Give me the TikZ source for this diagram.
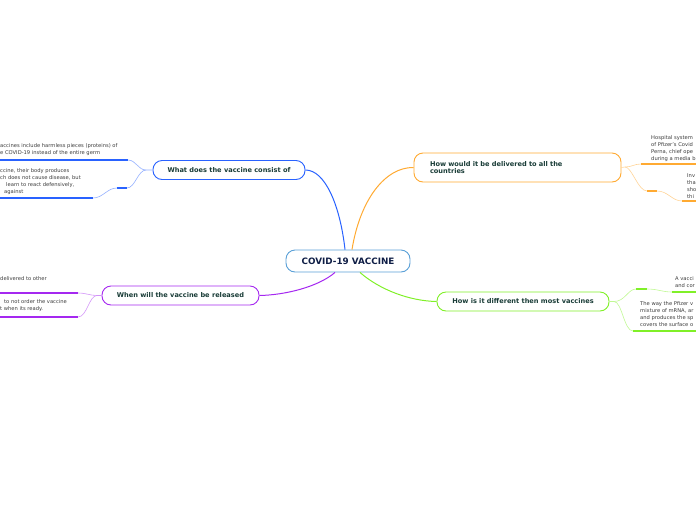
\documentclass[tikz,border=0pt]{standalone}
\usepackage{fontspec}
\setmainfont{DejaVu Sans}
\usetikzlibrary{positioning}
\definecolor{rootline}{RGB}{90,160,215}
\definecolor{roottext}{RGB}{15,30,70}
\definecolor{topictext}{RGB}{25,60,55}
\definecolor{leaftext}{RGB}{60,60,60}
\definecolor{cblue}{RGB}{41,98,255}
\definecolor{corange}{RGB}{255,170,50}
\definecolor{cpurple}{RGB}{165,40,240}
\definecolor{cgreen}{RGB}{128,240,40}

\begin{document}
\begin{tikzpicture}[x=1pt, y=-1pt,
    topic/.style={draw, fill=white, rounded corners=9pt, line width=0.9pt, text=topictext,
      font=\fontsize{6.6}{8}\selectfont\bfseries, minimum height=19pt, inner xsep=0pt},
    leaf/.style={anchor=north west, inner sep=0pt, align=left, text=leaftext,
      font=\fontsize{5.2}{7}\selectfont},
    thin/.style={line width=0.6pt},
    thick/.style={line width=1.4pt}]
    \useasboundingbox (0,0) rectangle (696,520);
    \clip (0,0) rectangle (696,520);
    % centre
    \node[topic, draw=rootline, text=roottext, font=\fontsize{8.8}{10}\selectfont\bfseries,
      minimum width=124pt, minimum height=22pt] (root) at (348,261) {COVID-19 VACCINE};
    % main topics
    \node[topic, draw=cblue, minimum width=152pt] (consist) at (229,170) {What does the vaccine consist of};
    \node[topic, draw=corange, minimum height=29pt, text width=175pt, inner xsep=16pt,
      align=left, font=\fontsize{6.6}{7.6}\selectfont\bfseries] (deliver) at (517.5,167.5)
      {How would it be delivered to all the\\countries};
    \node[topic, draw=cpurple, minimum width=157pt] (release) at (180.5,295.5) {When will the vaccine be released};
    \node[topic, draw=cgreen, minimum width=172pt] (differ) at (523,301.5) {How is it different then most vaccines};
    \draw[cblue, line width=1pt] ([xshift=-3pt]root.north) .. controls (340,205) and (325,170) .. (consist.east);
    \draw[corange, line width=1pt] ([xshift=4pt]root.north) .. controls (360,200) and (385,167) .. (deliver.west);
    \draw[cpurple, line width=1pt] ([xshift=-13pt]root.south) .. controls (318,287) and (285,295) .. (release.east);
    \draw[cgreen, line width=1pt] ([xshift=12pt]root.south) .. controls (380,290) and (410,301) .. (differ.west);
    % blue leaves
    \node[leaf] (consistA) at (0,143.5) {accines include harmless pieces (proteins) of\\e COVID-19 instead of the entire germ};
    \node[leaf] (consistB) at (0,168.5) {ccine, their body produces\\ch does not cause disease, but\\\kern6pt learn to react defensively,\\\kern4pt against};
    \coordinate (bJ) at (146,170);
    \draw[cblue!50, thin] (consist.west) -- (bJ) .. controls (138,170) and (136,160) .. (128,160);
    \draw[cblue, thick] (128,160) -- (0,160);
    \draw[cblue!50, thin] (bJ) .. controls (138,170) and (135,188) .. (127,188);
    \draw[cblue, thick] (127,188) -- (117,188);
    \draw[cblue!50, thin] (117,188) .. controls (107,188) and (103,198) .. (93,198);
    \draw[cblue, thick] (93,198) -- (0,198);
    % orange leaves
    \node[leaf] (deliverA) at (651,135.5) {Hospital system\\of Pfizer's Covid\\Perna, chief ope\\during a media b};
    \node[leaf] (deliverB) at (687,173.5) {Inv\\tha\\sho\\thi};
    \coordinate (oJ) at (625,167);
    \draw[corange!50, thin] (deliver.east) -- (oJ) .. controls (632,167) and (634,164) .. (641,164);
    \draw[corange, thick] (641,164) -- (696,164);
    \draw[corange!50, thin] (oJ) .. controls (632,167) and (638,191) .. (647,191);
    \draw[corange, thick] (647,191) -- (657,191);
    \draw[corange!50, thin] (657,191) .. controls (668,191) and (672,201) .. (682,201);
    \draw[corange, thick] (682,201) -- (696,201);
    % purple leaves
    \node[leaf] (releaseA) at (0,276.5) {delivered to other};
    \node[leaf] (releaseB) at (0,299.5) {\kern4pt to not order the vaccine\\t when its ready.};
    \coordinate (pJ) at (97,295.5);
    \draw[cpurple!50, thin] (release.west) -- (pJ) .. controls (90,295.5) and (86,293) .. (78,293);
    \draw[cpurple, thick] (78,293) -- (0,293);
    \draw[cpurple!50, thin] (pJ) .. controls (89,295.5) and (87,317) .. (78,317);
    \draw[cpurple, thick] (78,317) -- (0,317);
    % green leaves
    \node[leaf] (differA) at (675,276.5) {A vacci\\and cor};
    \node[leaf] (differB) at (640,301.5) {The way the Pfizer v\\mixture of mRNA, ar\\and produces the sp\\covers the surface o};
    \coordinate (gJ) at (614,301.5);
    \draw[cgreen!50, thin] (differ.east) -- (gJ) .. controls (625,301.5) and (628,289) .. (636,289);
    \draw[cgreen, thick] (636,289) -- (647,289);
    \draw[cgreen!50, thin] (647,289) .. controls (658,289) and (662,292) .. (672,292);
    \draw[cgreen, thick] (672,292) -- (696,292);
    \draw[cgreen!50, thin] (gJ) .. controls (622,301.5) and (624,331) .. (633,331);
    \draw[cgreen, thick] (633,331) -- (696,331);
\end{tikzpicture}
\end{document}
